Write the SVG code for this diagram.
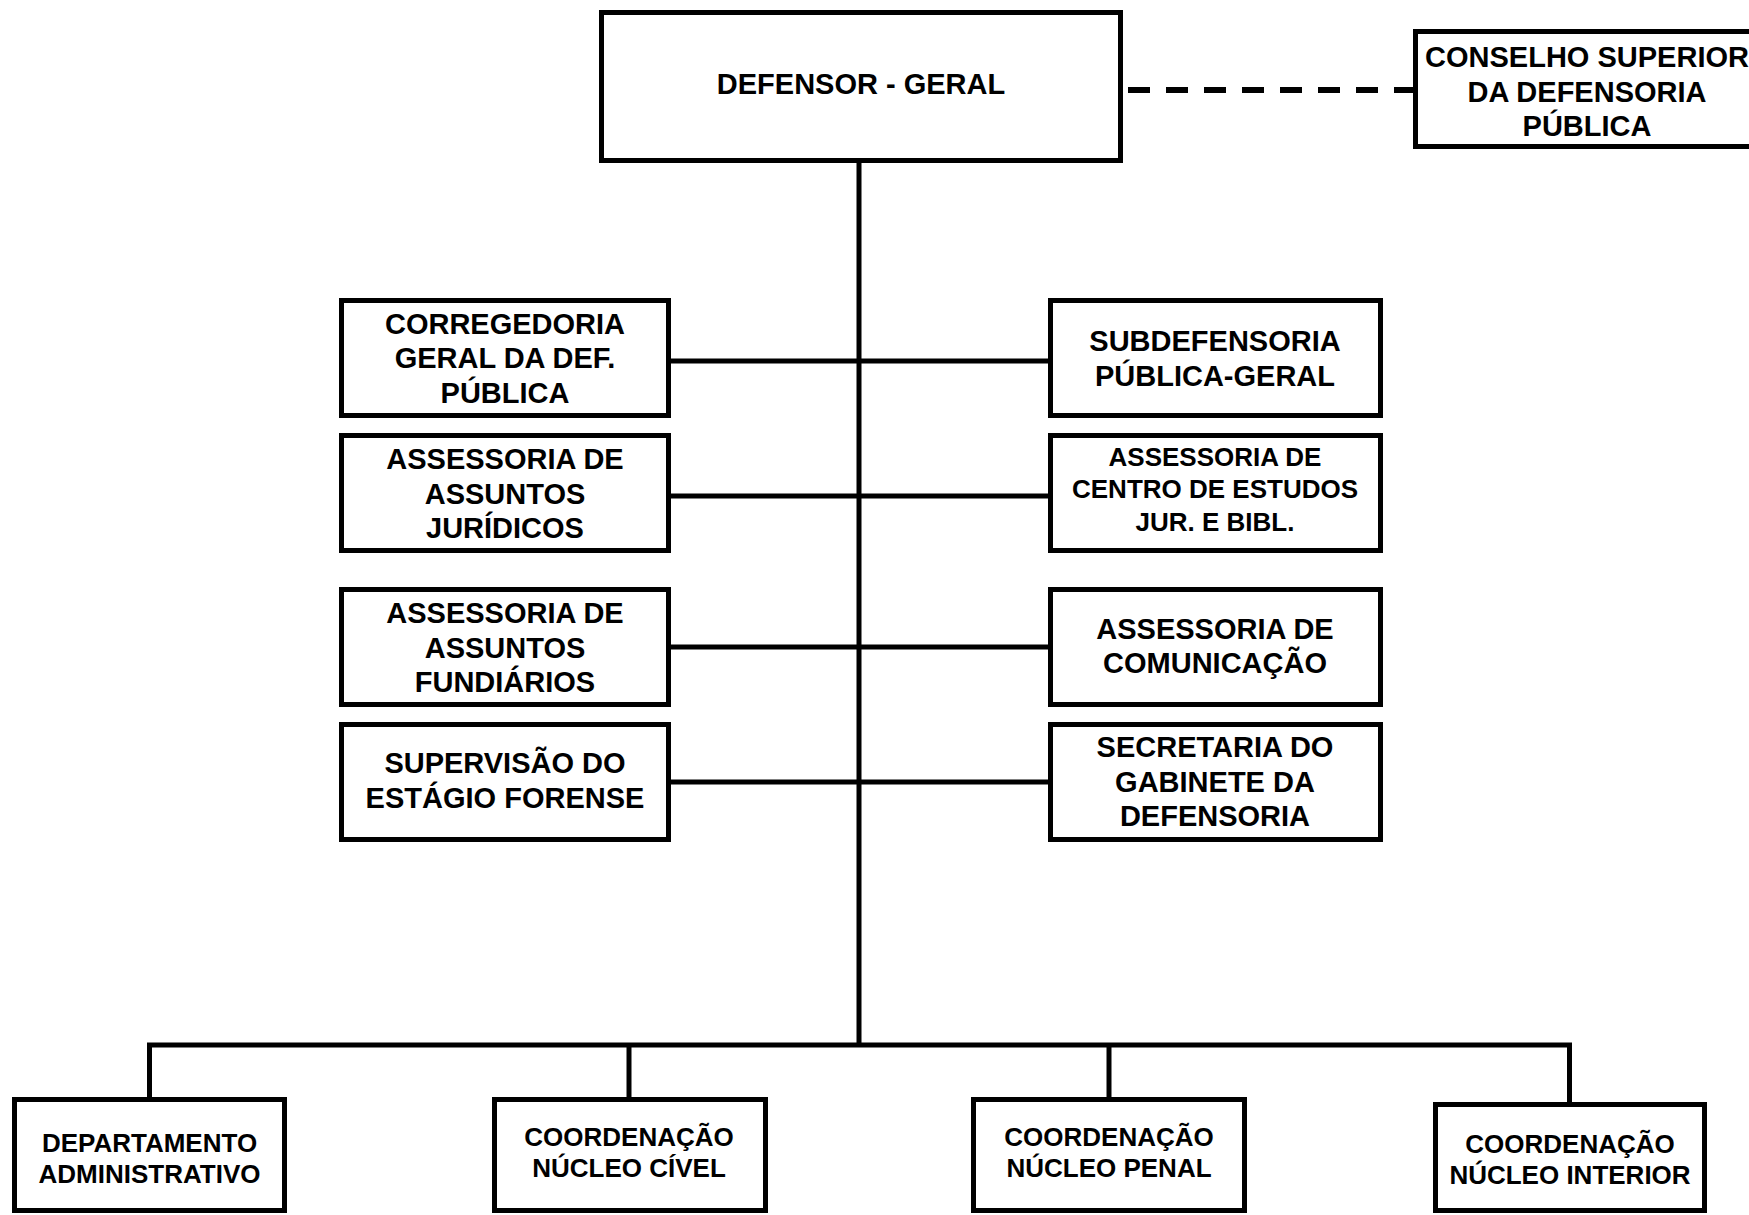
<svg xmlns="http://www.w3.org/2000/svg" width="1749" height="1215" viewBox="0 0 1749 1215">
<style>
.box{fill:#fff;stroke:#000;stroke-width:5}
.ln{fill:none;stroke:#000;stroke-width:5}
.dash{fill:none;stroke:#000;stroke-width:6;stroke-dasharray:22 16}
text{font-family:"Liberation Sans",Arial,sans-serif;font-weight:bold;fill:#000;text-anchor:middle}
.t29{font-size:29px}
.t26{font-size:26px}
</style>
<rect width="1749" height="1215" fill="#fff"/>
<g id="connectors">
<line class="ln" x1="859" y1="163" x2="859" y2="1045"/>
<line class="dash" x1="1128" y1="90" x2="1413" y2="90"/>
<line class="ln" x1="671" y1="361" x2="1048" y2="361"/>
<line class="ln" x1="671" y1="496" x2="1048" y2="496"/>
<line class="ln" x1="671" y1="647" x2="1048" y2="647"/>
<line class="ln" x1="671" y1="782" x2="1048" y2="782"/>
<polyline class="ln" points="149.5,1099 149.5,1045 1569.5,1045 1569.5,1102"/>
<line class="ln" x1="629" y1="1045" x2="629" y2="1097"/>
<line class="ln" x1="1109" y1="1045" x2="1109" y2="1097"/>
</g>
<g id="defensor-geral">
<rect class="box" x="601.5" y="12.5" width="519" height="148"/>
<text class="t29" x="861" y="94">DEFENSOR - GERAL</text>
</g>
<g id="conselho-superior">
<rect class="box" x="1415.5" y="31.5" width="350" height="115"/>
<text class="t29" x="1587" y="67">CONSELHO SUPERIOR</text>
<text class="t29" x="1587" y="102">DA DEFENSORIA</text>
<text class="t29" x="1587" y="136">PÚBLICA</text>
</g>
<g id="corregedoria">
<rect class="box" x="341.5" y="300.5" width="327" height="115"/>
<text class="t29" x="505" y="334">CORREGEDORIA</text>
<text class="t29" x="505" y="368">GERAL DA DEF.</text>
<text class="t29" x="505" y="403">PÚBLICA</text>
</g>
<g id="assessoria-juridicos">
<rect class="box" x="341.5" y="435.5" width="327" height="115"/>
<text class="t29" x="505" y="469">ASSESSORIA DE</text>
<text class="t29" x="505" y="503.5">ASSUNTOS</text>
<text class="t29" x="505" y="538">JURÍDICOS</text>
</g>
<g id="assessoria-fundiarios">
<rect class="box" x="341.5" y="589.5" width="327" height="115"/>
<text class="t29" x="505" y="623">ASSESSORIA DE</text>
<text class="t29" x="505" y="657.5">ASSUNTOS</text>
<text class="t29" x="505" y="692">FUNDIÁRIOS</text>
</g>
<g id="supervisao-estagio">
<rect class="box" x="341.5" y="724.5" width="327" height="115"/>
<text class="t29" x="505" y="773">SUPERVISÃO DO</text>
<text class="t29" x="505" y="808">ESTÁGIO FORENSE</text>
</g>
<g id="subdefensoria">
<rect class="box" x="1050.5" y="300.5" width="330" height="115"/>
<text class="t29" x="1215" y="351">SUBDEFENSORIA</text>
<text class="t29" x="1215" y="386">PÚBLICA-GERAL</text>
</g>
<g id="centro-estudos">
<rect class="box" x="1050.5" y="435.5" width="330" height="115"/>
<text class="t26" x="1215" y="465.5">ASSESSORIA DE</text>
<text class="t26" x="1215" y="498">CENTRO DE ESTUDOS</text>
<text class="t26" x="1215" y="530.5">JUR. E BIBL.</text>
</g>
<g id="comunicacao">
<rect class="box" x="1050.5" y="589.5" width="330" height="115"/>
<text class="t29" x="1215" y="639">ASSESSORIA DE</text>
<text class="t29" x="1215" y="673">COMUNICAÇÃO</text>
</g>
<g id="secretaria-gabinete">
<rect class="box" x="1050.5" y="724.5" width="330" height="115"/>
<text class="t29" x="1215" y="757">SECRETARIA DO</text>
<text class="t29" x="1215" y="791.5">GABINETE DA</text>
<text class="t29" x="1215" y="826">DEFENSORIA</text>
</g>
<g id="departamento-administrativo">
<rect class="box" x="14.5" y="1099.5" width="270" height="111"/>
<text class="t26" x="149.5" y="1152">DEPARTAMENTO</text>
<text class="t26" x="149.5" y="1182.5">ADMINISTRATIVO</text>
</g>
<g id="nucleo-civel">
<rect class="box" x="494.5" y="1099.5" width="271" height="111"/>
<text class="t26" x="629" y="1146">COORDENAÇÃO</text>
<text class="t26" x="629" y="1177">NÚCLEO CÍVEL</text>
</g>
<g id="nucleo-penal">
<rect class="box" x="973.5" y="1099.5" width="271" height="111"/>
<text class="t26" x="1109" y="1146">COORDENAÇÃO</text>
<text class="t26" x="1109" y="1177">NÚCLEO PENAL</text>
</g>
<g id="nucleo-interior">
<rect class="box" x="1435.5" y="1104.5" width="269" height="106"/>
<text class="t26" x="1570" y="1153">COORDENAÇÃO</text>
<text class="t26" x="1570" y="1184">NÚCLEO INTERIOR</text>
</g>
</svg>
